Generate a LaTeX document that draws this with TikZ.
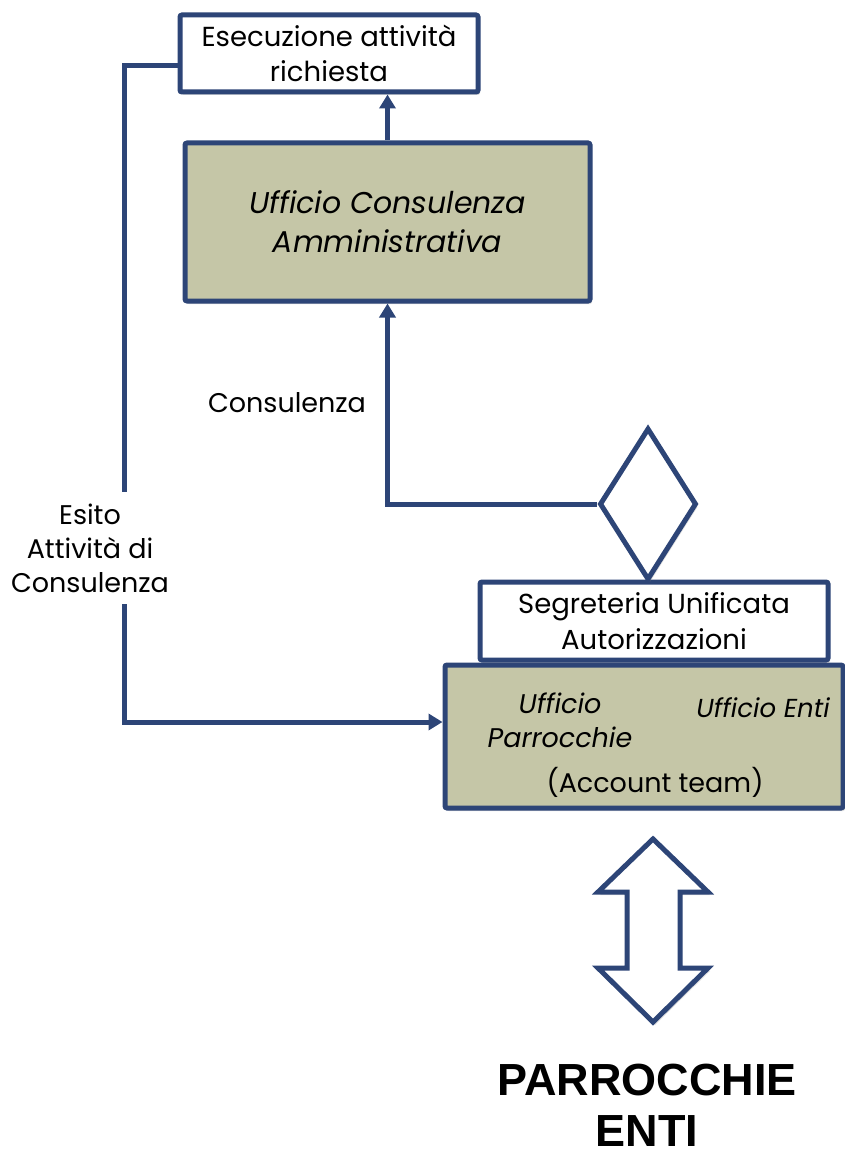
\documentclass[tikz,border=0pt]{standalone}
\usepackage{fontspec}
\setmainfont{Poppins}
\newfontfamily\boldfont{Liberation Sans}
\usetikzlibrary{shapes.geometric,shadows,arrows.meta}
\definecolor{bord}{HTML}{2D4577}
\definecolor{olive}{HTML}{C5C6A7}
\tikzset{
  box/.style={draw=bord, line width=5pt, rounded corners=2pt, inner sep=0pt, align=center,
    drop shadow={shadow xshift=2pt, shadow yshift=-3pt, opacity=0.25}},
  whitebox/.style={box, fill=white},
  olivebox/.style={box, fill=olive},
  conn/.style={draw=bord, line width=5pt},
  arr/.style={conn, -{Triangle[length=14pt,width=16pt]}},
  txt/.style={font=\fontsize{27}{34}\selectfont, align=center, inner sep=0pt},
}
\begin{document}
\begin{tikzpicture}[x=1pt,y=-1pt]
\useasboundingbox (0,0) rectangle (845,1158);
\node[whitebox, minimum width=298pt, minimum height=77pt, font=\fontsize{27.5}{35}\selectfont] (esec) at (329,53.5) {Esecuzione attività\\richiesta};
\node[olivebox, minimum width=405pt, minimum height=158pt, font=\fontsize{30}{39}\selectfont\itshape] (ucamm) at (387.5,222) {Ufficio Consulenza\\Amministrativa};
\node[olivebox, minimum width=398pt, minimum height=143pt] (uff) at (644,736.5) {};
\node[whitebox, minimum width=348pt, minimum height=78pt, font=\fontsize{27.5}{36}\selectfont] (segr) at (654,621) {Segreteria Unificata\\Autorizzazioni};
\node[diamond, draw=bord, line width=5pt, fill=white, inner sep=0pt, minimum width=97pt, minimum height=152pt,
  drop shadow={shadow xshift=2pt, shadow yshift=-3pt, opacity=0.25}] (dia) at (648,504) {};
\node[txt, font=\fontsize{27}{34}\selectfont\itshape] (parr) at (560,720) {Ufficio\\Parrocchie};
\node[txt, font=\fontsize{26}{34}\selectfont\itshape] (enti) at (763,708) {Ufficio Enti};
\node[txt] (acc) at (655,782) {(Account team)};
\draw[arr] (ucamm.north) -- (ucamm.north|-esec.south);
\draw[arr] (dia.west) -| (ucamm.south);
\node[txt] (cons) at (287,403) {Consulenza};
\coordinate (c1) at (124,66);
\coordinate (c2) at (124,722);
\draw[arr] (esec.west|-c1) -- (c1) -- (c2) -- (uff.west|-c2);
\node[txt, fill=white, inner ysep=12pt, inner xsep=2pt] (esito) at (90,548) {Esito\\Attività di\\Consulenza};
\draw[draw=bord, line width=5pt, fill=white, line join=miter,
  drop shadow={shadow xshift=2pt, shadow yshift=-3pt, opacity=0.25}]
  (653,839) -- (708,892) -- (680,892) -- (680,968) -- (708,968) -- (653,1022)
  -- (598,968) -- (627,968) -- (627,892) -- (598,892) -- cycle;
\node[font=\boldfont\bfseries\fontsize{45}{51}\selectfont, align=center, inner sep=0pt] (pe) at (647,1105) {PARROCCHIE\\ENTI};
\end{tikzpicture}
\end{document}
